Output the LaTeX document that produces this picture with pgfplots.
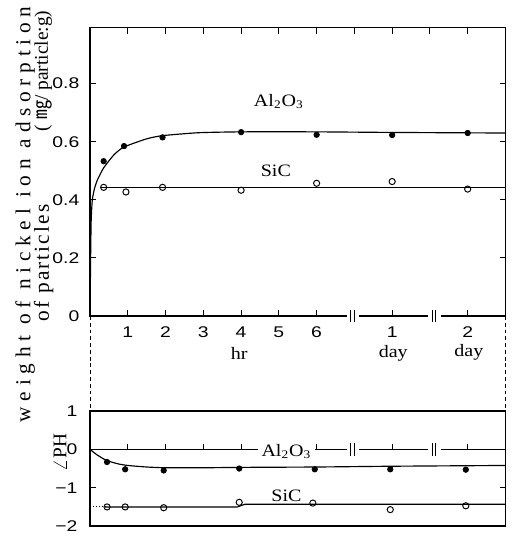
\documentclass[border=0pt]{standalone}
\usepackage{fontspec}
\setmainfont{Liberation Serif}
\setsansfont{Liberation Sans}
\newfontfamily\tickfont[FakeStretch=1.25]{Liberation Sans}
\newfontfamily\labfont[FakeStretch=1.15]{Liberation Serif}
\newfontfamily\ylabA[LetterSpace=27]{Liberation Serif}
\newfontfamily\ylabB[LetterSpace=10]{Liberation Serif}
\newfontfamily\serifplain{Liberation Serif}
\newfontfamily\cjk{Noto Sans CJK JP}
\usepackage{pgfplots}
\pgfplotsset{compat=1.18}
\pgfplotsset{
  panel/.style={
    anchor=south west, x=19.5pt, xmin=0, xmax=11,
    clip=false, axis line style={line width=0.7pt},
    tick align=inside, major tick length=3pt,
    every tick/.style={black, line width=0.5pt},
    tick label style={font=\tickfont\fontsize{8}{9}\selectfont},
    /pgf/number format/assume math mode=true,
    ytick pos=both, yticklabel pos=left,
  }
}
\begin{document}
\begin{tikzpicture}
\path (0pt,0pt) rectangle (266pt,-269pt);
% ---------------- top panel ----------------
\begin{axis}[panel, at={(46.5pt,-157.5pt)}, y=150pt, ymin=0, ymax=0.993,
  xtick={1,2,3,4,5,6,8,10}, xticklabels={1,2,3,4,5,6,1,2}, xtick pos=left,
  ytick={0,0.2,0.4,0.6,0.8}, yticklabels={0,0.2,0.4,0.6,0.8},
  xticklabel style={yshift=-2pt}, yticklabel style={xshift=-2pt}]
% Al2O3 fitted curve
\addplot[black, line width=0.6pt, smooth, tension=0.35] coordinates {
 (0.0,0.0) (0.015,0.2) (0.03,0.33) (0.06,0.40) (0.12,0.44) (0.2,0.47)
 (0.36,0.51) (0.64,0.556) (0.9,0.582) (1.5,0.610) (1.92,0.621) (2.87,0.631)
 (4,0.634) (6,0.634) (8,0.632) (11,0.630)};
\addplot[black, only marks, mark=*, mark size=1.4pt] coordinates {
 (0.36,0.533) (0.9,0.585) (1.92,0.615) (4,0.633) (6,0.624) (8,0.623) (10,0.630)};
% SiC
\addplot[black, line width=0.6pt] coordinates {(0.3,0.443) (11,0.443)};
\addplot[black, only marks, mark=o, mark size=1.6pt, mark options={fill=white, line width=0.5pt}] coordinates {
 (0.36,0.443) (0.95,0.427) (1.92,0.443) (4,0.433) (6,0.457) (8,0.463) (10,0.437)};
% top-edge ticks
\pgfplotsinvokeforeach{1,...,10}{\draw[line width=0.5pt] (axis cs:#1,0.993) -- ++(0pt,-3.5pt);}
% axis breaks
\fill[white] ([yshift=-1.5pt]axis cs:6.8,0) rectangle ([yshift=1.5pt]axis cs:7.12,0);
\draw[line width=0.5pt] ([yshift=-3pt]axis cs:6.9,0) -- ([yshift=3pt]axis cs:6.9,0);
\draw[line width=0.5pt] ([yshift=-3pt]axis cs:6.99,0) -- ([yshift=3pt]axis cs:6.99,0);
\fill[white] ([yshift=-1.5pt]axis cs:8.95,0) rectangle ([yshift=1.5pt]axis cs:9.28,0);
\draw[line width=0.5pt] ([yshift=-3pt]axis cs:9.07,0) -- ([yshift=3pt]axis cs:9.07,0);
\draw[line width=0.5pt] ([yshift=-3pt]axis cs:9.15,0) -- ([yshift=3pt]axis cs:9.15,0);
% labels
\node[font=\labfont\fontsize{9}{10}\selectfont] at (axis cs:5.0,0.74) {Al\textsubscript{2}O\textsubscript{3}};
\node[font=\labfont\fontsize{9}{10}\selectfont] at (axis cs:4.92,0.50) {SiC};
\node[font=\labfont\fontsize{9}{10}\selectfont] at ([yshift=-19.5pt]axis cs:3.95,0) {hr};
\node[font=\labfont\fontsize{9}{10}\selectfont] at ([yshift=-19.5pt]axis cs:8.03,0) {day};
\node[font=\labfont\fontsize{9}{10}\selectfont] at ([yshift=-19pt]axis cs:10.03,0) {day};
\end{axis}
% ---------------- bottom panel ----------------
\begin{axis}[panel, at={(46.5pt,-266pt)}, y=19.83pt, ymin=-2, ymax=1,
  xtick=\empty, ytick={-2,-1,0,1}, yticklabels={−2,−1,0,1},
  yticklabel style={xshift=-3pt}]
% zero line with ticks and breaks
\draw[line width=0.45pt] (axis cs:0,0) -- (axis cs:11,0);
\pgfplotsinvokeforeach{1,2,3,4,5,6,8,10}{\draw[line width=0.45pt] (axis cs:#1,0) -- ++(0pt,3pt);}
\fill[white] ([yshift=-1.5pt]axis cs:6.8,0) rectangle ([yshift=1.5pt]axis cs:7.12,0);
\draw[line width=0.5pt] ([yshift=-3.5pt]axis cs:6.9,0) -- ([yshift=3.5pt]axis cs:6.9,0);
\draw[line width=0.5pt] ([yshift=-3.5pt]axis cs:6.99,0) -- ([yshift=3.5pt]axis cs:6.99,0);
\fill[white] ([yshift=-1.5pt]axis cs:8.95,0) rectangle ([yshift=1.5pt]axis cs:9.28,0);
\draw[line width=0.5pt] ([yshift=-3.5pt]axis cs:9.07,0) -- ([yshift=3.5pt]axis cs:9.07,0);
\draw[line width=0.5pt] ([yshift=-3.5pt]axis cs:9.15,0) -- ([yshift=3.5pt]axis cs:9.15,0);
% Al2O3 delta pH
\addplot[black, line width=0.6pt, smooth, tension=0.4] coordinates {
 (0,0) (0.15,-0.12) (0.36,-0.25) (0.5,-0.31) (0.75,-0.38) (1,-0.42) (1.5,-0.46)
 (2,-0.48) (3,-0.48) (4,-0.47) (6,-0.46) (8,-0.44) (11,-0.42)};
\addplot[black, only marks, mark=*, mark size=1.4pt] coordinates {
 (0.45,-0.33) (0.93,-0.52) (1.95,-0.55) (3.95,-0.5) (5.95,-0.52) (7.95,-0.52) (9.95,-0.53)};
% SiC delta pH
\addplot[black, line width=0.5pt, densely dotted] coordinates {(0,-1.5) (0.4,-1.5)};
\addplot[black, line width=0.6pt] coordinates {(0.4,-1.5) (3.9,-1.5) (4.1,-1.43) (11,-1.43)};
\addplot[black, only marks, mark=o, mark size=1.6pt, mark options={fill=white, line width=0.5pt}] coordinates {
 (0.45,-1.5) (0.93,-1.5) (1.95,-1.52) (3.95,-1.38) (5.9,-1.4) (7.95,-1.57) (9.95,-1.47)};
\node[font=\labfont\fontsize{9}{10}\selectfont, fill=white, inner sep=2pt] at (axis cs:5.2,-0.05) {Al\textsubscript{2}O\textsubscript{3}};
\node[font=\labfont\fontsize{9}{10}\selectfont] at (axis cs:5.2,-1.2) {SiC};
\end{axis}
% dashed connectors between panels
\draw[line width=0.5pt, dash pattern=on 2pt off 1.5pt] (46.5pt,-157.5pt) -- (46.5pt,-206.5pt);
\draw[line width=0.5pt, dash pattern=on 2pt off 1.5pt] (261pt,-157.5pt) -- (261pt,-206.5pt);
% y labels
\node[rotate=90, font=\ylabA\fontsize{11}{12}\selectfont] at (13pt,-105pt) {weight of nickel ion adsorption};
\node[rotate=90, font=\ylabB\fontsize{11}{12}\selectfont] at (22.5pt,-130pt) {of particles};
\node[rotate=90, font=\serifplain\fontsize{10}{12}\selectfont] at (22.5pt,-31pt) {( {\cjk ㎎}/ particle:g)};
\node[rotate=90, font=\serifplain\fontsize{10}{12}\selectfont] at (31pt,-228pt) {$\angle$PH};
\end{tikzpicture}
\end{document}
